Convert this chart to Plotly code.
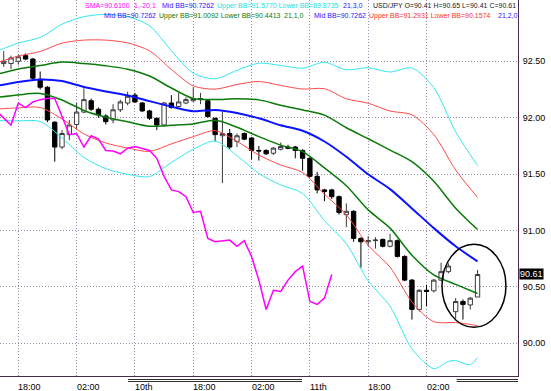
import plotly.graph_objects as go

# ---------------- data ----------------
time_labels = ["18:00", "02:00", "10th", "18:00", "02:00", "11th", "18:00", "02:00"]
label_bars = [2, 10, 18, 26, 34, 42, 50, 58]

bar_index = list(range(66))
opens = [92.48, 92.48, 92.50, 92.55, 92.52, 92.34, 92.27, 91.96, 91.74, 91.85,
         91.94, 92.05, 92.15, 92.075, 92.015, 91.98, 92.07, 92.13, 92.20, 92.13,
         92.06, 91.995, 91.935, 92.13, 92.10, 92.13, 92.15, 92.16, 92.15, 91.995,
         91.84, 91.86, 91.79, 91.86, 91.82, 91.71, 91.71, 91.685, 91.72, 91.74,
         91.74, 91.71, 91.64, 91.48, 91.36, 91.36, 91.30, 91.14, 91.17, 90.93,
         90.90, 90.91, 90.92, 90.86, 90.91, 90.77, 90.56, 90.30, 90.47, 90.465,
         90.56, 90.635, 90.28, 90.37, 90.34, 90.41]
highs = [92.59, 92.55, 92.56, 92.57, 92.53, 92.41, 92.28, 91.97, 91.89, 91.98,
         92.13, 92.26, 92.17, 92.09, 92.03, 92.12, 92.16, 92.23, 92.22, 92.14,
         92.07, 92.00, 92.14, 92.20, 92.22, 92.18, 92.27, 92.22, 92.16, 92.00,
         92.05, 91.90, 91.86, 91.87, 91.83, 91.75, 91.72, 91.74, 91.78, 91.76,
         91.75, 91.72, 91.65, 91.52, 91.37, 91.37, 91.31, 91.24, 91.18, 90.94,
         90.95, 90.94, 90.93, 90.97, 90.92, 90.78, 90.57, 90.48, 90.52, 90.57,
         90.715, 90.71, 90.40, 90.39, 90.41, 90.65]
lows = [92.45, 92.43, 92.47, 92.51, 92.33, 92.25, 91.96, 91.61, 91.72, 91.80,
        91.90, 92.04, 92.06, 92.00, 91.94, 91.95, 92.05, 92.11, 92.13, 92.05,
        91.98, 91.89, 91.92, 92.08, 92.09, 92.12, 92.14, 92.12, 92.00, 91.79,
        91.42, 91.72, 91.74, 91.80, 91.63, 91.62, 91.67, 91.67, 91.71, 91.72,
        91.64, 91.53, 91.47, 91.33, 91.26, 91.28, 91.14, 91.03, 90.90, 90.67,
        90.86, 90.84, 90.85, 90.85, 90.76, 90.55, 90.21, 90.28, 90.33, 90.45,
        90.55, 90.62, 90.22, 90.21, 90.30, 90.41]
closes = [92.50, 92.53, 92.54, 92.52, 92.35, 92.27, 91.98, 91.74, 91.86, 91.935,
          92.05, 92.16, 92.075, 92.025, 91.965, 92.07, 92.14, 92.19, 92.14, 92.06,
          91.995, 91.935, 92.13, 92.09, 92.14, 92.16, 92.17, 92.17, 92.01, 91.85,
          91.86, 91.74, 91.84, 91.81, 91.71, 91.705, 91.68, 91.73, 91.745, 91.73,
          91.71, 91.64, 91.48, 91.36, 91.345, 91.30, 91.16, 91.17, 90.93, 90.90,
          90.91, 90.915, 90.86, 90.91, 90.77, 90.56, 90.30, 90.47, 90.46, 90.56,
          90.635, 90.685, 90.37, 90.345, 90.40, 90.61]

# Bollinger band lines (21 period), read at every third bar
band_index = [-1, 2, 5, 8, 11, 14, 17, 20, 23, 26, 29, 32, 35, 38, 41, 44, 47, 50, 53, 56, 59, 62, 65]
mid_bb = [92.281, 92.317, 92.339, 92.325, 92.272, 92.232, 92.197, 92.147, 92.098, 92.057, 92.069, 92.042,
          91.995, 91.933, 91.884, 91.789, 91.654, 91.498, 91.367, 91.196, 91.021, 90.860, 90.726]
bb1_upper = [92.383, 92.432, 92.463, 92.493, 92.480, 92.460, 92.430, 92.370, 92.263, 92.170, 92.161, 92.168,
             92.158, 92.110, 92.069, 92.023, 91.911, 91.813, 91.713, 91.611, 91.436, 91.198, 91.009]
bb1_lower = [92.179, 92.202, 92.215, 92.157, 92.064, 92.004, 91.964, 91.924, 91.933, 91.945, 91.977, 91.916,
             91.832, 91.757, 91.699, 91.555, 91.397, 91.183, 91.021, 90.781, 90.606, 90.522, 90.441]
bb2_upper = [92.485, 92.547, 92.587, 92.661, 92.688, 92.688, 92.663, 92.593, 92.428, 92.282, 92.253, 92.294,
             92.321, 92.286, 92.254, 92.257, 92.168, 92.128, 92.059, 92.026, 91.851, 91.536, 91.293]
bb2_lower = [92.077, 92.087, 92.091, 91.989, 91.856, 91.776, 91.731, 91.701, 91.768, 91.832, 91.885, 91.790,
             91.669, 91.580, 91.514, 91.321, 91.140, 90.868, 90.675, 90.366, 90.191, 90.184, 90.157]
bb3_upper = [92.587, 92.662, 92.711, 92.829, 92.896, 92.916, 92.896, 92.816, 92.593, 92.395, 92.345, 92.420,
             92.484, 92.463, 92.439, 92.491, 92.425, 92.443, 92.405, 92.441, 92.266, 91.874, 91.577]
bb3_lower_index = [-1, 2, 5, 8, 11, 14, 17, 20, 23, 26, 29, 32, 35, 38, 41, 44, 47, 50, 53, 56, 59, 61, 62, 64, 65]
bb3_lower = [91.975, 91.972, 91.967, 91.821, 91.648, 91.548, 91.498, 91.478, 91.603, 91.720, 91.793, 91.664,
             91.506, 91.404, 91.329, 91.087, 90.883, 90.553, 90.329, 89.951, 89.776, 89.840, 89.846, 89.810, 89.874]

# SMA(1) shifted -20 bars: the close plotted 20 bars earlier
sma_index = list(range(-1, 46))
sma_values = closes[19:]

ytick_vals = [90.0, 90.5, 91.0, 91.5, 92.0, 92.5]
ytick_text = ["90.00", "90.50", "91.00", "91.50", "92.00", "92.50"]
last_price = 90.61

# ---------------- figure ----------------
W, H = 551, 391
ML, MR, MT, MB = 0, 33, 0, 15
PW, PH = W - ML - MR, H - MT - MB

def px_x(px):
    return px / PW

def px_y(py):
    return (PH - py) / PH

fig = go.Figure()

fig.add_trace(go.Candlestick(
    x=bar_index, open=opens, high=highs, low=lows, close=closes,
    increasing=dict(line=dict(color="#3a3a3a", width=1), fillcolor="#ffffff"),
    decreasing=dict(line=dict(color="#000000", width=1), fillcolor="#000000"),
    whiskerwidth=0, showlegend=False, hoverinfo="skip"))

def add_line(xs, ys, color, width, shape="spline"):
    fig.add_trace(go.Scatter(x=xs, y=ys, mode="lines",
                             line=dict(color=color, width=width, shape=shape, smoothing=0.8),
                             showlegend=False, hoverinfo="skip"))

add_line(band_index, bb3_upper, "#33e8f0", 1)
add_line(bb3_lower_index, bb3_lower, "#33e8f0", 1)
add_line(band_index, bb2_upper, "#ff4a4a", 1)
add_line(band_index, bb2_lower, "#ff4a4a", 1)
add_line(band_index, bb1_upper, "#0b7a0b", 1.5)
add_line(band_index, bb1_lower, "#0b7a0b", 1.5)
add_line(band_index, mid_bb, "#0a14ff", 2)
add_line(sma_index, sma_values, "#ff00ff", 1.5, shape="linear")

grid_color = "#9c88a8"
axis_color = "#4a2a4a"
tick_font = "Liberation Sans, Arial, sans-serif"

fig.update_layout(
    width=W, height=H,
    margin=dict(l=ML, r=MR, t=MT, b=MB, autoexpand=False),
    paper_bgcolor="white", plot_bgcolor="white",
    boxgap=0.15,
    showlegend=False,
    xaxis=dict(range=[-0.51, 70.55], tickvals=label_bars, showticklabels=False,
               showgrid=True, gridcolor=grid_color, griddash="1px,2px", gridwidth=1,
               showline=True, linecolor=axis_color, linewidth=1, zeroline=False, ticks="",
               rangeslider=dict(visible=False), fixedrange=True, automargin=False),
    yaxis=dict(range=[89.710, 93.0435], side="right", tickvals=ytick_vals, ticktext=ytick_text,
               showgrid=True, gridcolor=grid_color, griddash="1px,2px", gridwidth=1,
               showline=True, linecolor=axis_color, linewidth=1, zeroline=False, ticks="",
               ticklabelstandoff=2, automargin=False, fixedrange=True,
               tickfont=dict(family=tick_font, size=9, color="black")),
)

# time labels
for b, t in zip(label_bars, time_labels):
    fig.add_annotation(x=b, xref="x", y=px_y(387), yref="paper", text=t, showarrow=False,
                       xanchor="left", yanchor="middle", xshift=-1, borderpad=0,
                       font=dict(family=tick_font, size=9, color="black"))

# date bars under axis
for x0, x1 in [(128, 302), (456.6, 518)]:
    for py in (379.5, 381.5):
        fig.add_shape(type="line", xref="paper", yref="paper", x0=px_x(x0), x1=px_x(x1),
                      y0=px_y(py), y1=px_y(py), line=dict(color="#303030", width=1))

# indicator legend text
legend_font = "Liberation Sans, Arial, sans-serif"
legend_items = [
    (84, 6, "SMA=90.6100", "#ff00ff"),
    (133, 6, "1,-20,1", "#ff00ff"),
    (161, 6, "Mid BB=90.7262", "#2020ff"),
    (216, 6, "Upper BB=91.5770 Lower BB=89.8735", "#22dede"),
    (342, 6, "21,3,0", "#2020ff"),
    (372, 6, "USD/JPY O=90.41 H=90.65 L=90.41 C=90.61", "#202020"),
    (103, 16, "Mid BB=90.7262", "#2020ff"),
    (158, 16, "Upper BB=91.0092 Lower BB=90.4413", "#0b7a0b"),
    (283, 16, "21,1,0", "#0b7a0b"),
    (313, 16, "Mid BB=90.7262", "#2020ff"),
    (368, 16, "Upper BB=91.2931 Lower BB=90.1574", "#ff3030"),
    (497, 16, "21,2,0", "#2020ff"),
]
for px, py, txt, col in legend_items:
    fig.add_annotation(x=px_x(px), xref="paper", y=px_y(py), yref="paper", text=txt,
                       showarrow=False, xanchor="left", yanchor="middle", borderpad=0,
                       font=dict(family=legend_font, size=7, color=col))

# current price box
fig.add_annotation(x=1, xref="paper", y=last_price, yref="y", text=f"{last_price:.2f}",
                   showarrow=False, xanchor="left", yanchor="middle", bgcolor="black",
                   borderpad=0, xshift=1,
                   font=dict(family=tick_font, size=9, color="white"))

# highlight ellipse around the last bars
fig.add_shape(type="circle", xref="x", yref="y", x0=60.12, x1=68.9, y0=90.142, y1=90.878,
              line=dict(color="black", width=1.5))

fig.write_html("out.html", config={"displayModeBar": False, "staticPlot": True},
               post_script="document.body.style.margin='0';document.body.style.overflow='hidden';")
